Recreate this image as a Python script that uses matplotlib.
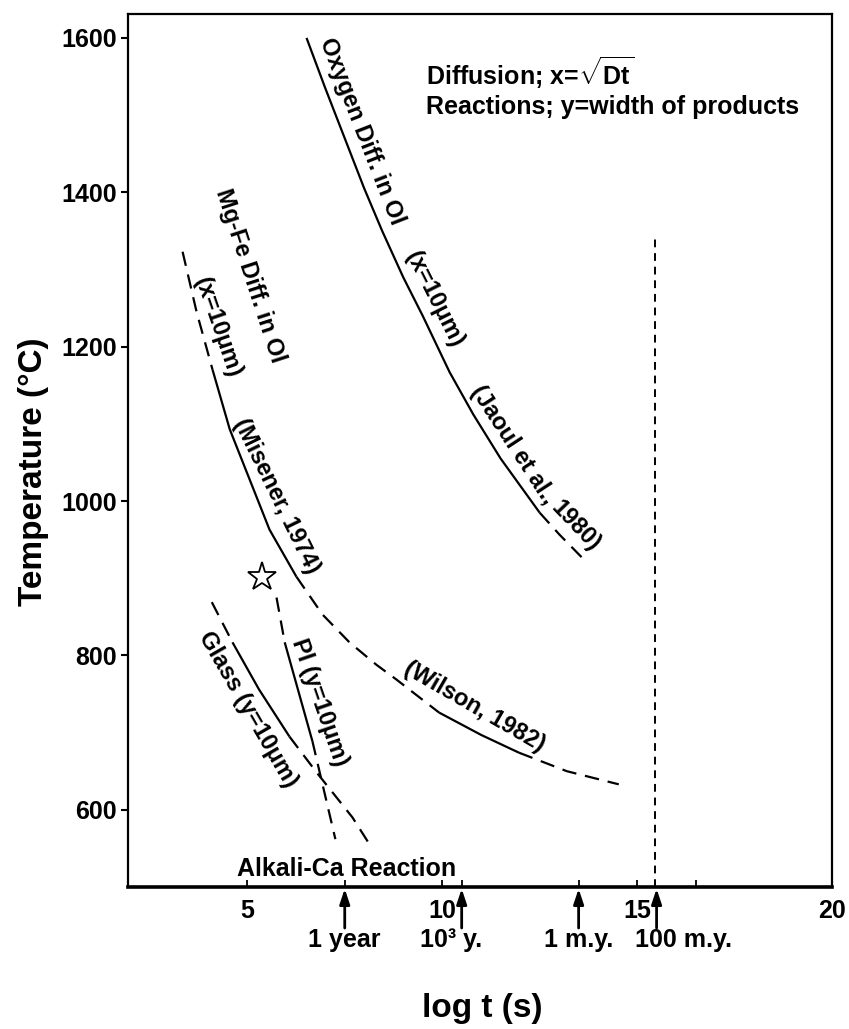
import matplotlib
matplotlib.use('Agg')
import matplotlib.pyplot as plt
import matplotlib.transforms as mtransforms
import numpy as np

plt.rcParams['font.family'] = ['Liberation Sans', 'DejaVu Sans']
plt.rcParams['font.weight'] = 'bold'
plt.rcParams['mathtext.fontset'] = 'custom'
plt.rcParams['mathtext.rm'] = 'Liberation Sans:bold'
plt.rcParams['mathtext.bf'] = 'Liberation Sans:bold'
plt.rcParams['mathtext.it'] = 'Liberation Sans:bold'

# ---------------- data (log t [s], temperature [deg C]) ----------------
# Oxygen diffusion in olivine (Jaoul et al., 1980)
oxy_solid_x = [6.52, 7.0, 7.5, 8.0, 8.46, 9.0, 9.5, 10.19, 10.8, 11.5, 12.5]
oxy_solid_T = [1600, 1535, 1470, 1405, 1350, 1290, 1240, 1167, 1112, 1055, 985]
oxy_dash_x = [12.5, 13.0, 13.64]
oxy_dash_T = [985, 957, 924]

# Mg-Fe diffusion in olivine (Misener 1974 / Wilson 1982)
mg_dash1_x = [3.34, 3.7, 4.11]
mg_dash1_T = [1323, 1245, 1170]
mg_solid1_x = [4.11, 4.55, 5.06, 5.57, 6.26]
mg_solid1_T = [1170, 1093, 1028, 963, 902]
mg_dash2_x = [6.26, 6.93, 7.62, 8.31, 8.82, 9.92]
mg_dash2_T = [902, 853, 817, 788, 769, 726]
mg_solid2_x = [9.92, 11.0, 11.97]
mg_solid2_T = [726, 697, 674]
mg_dash3_x = [11.97, 13.2, 14.53]
mg_dash3_T = [674, 650, 633]

# Plagioclase reaction (y = 10 um)
pl_dash1_x = [5.75, 5.96]
pl_dash1_T = [875, 817]
pl_solid_x = [5.96, 6.67]
pl_solid_T = [817, 689]
pl_dash2_x = [6.67, 7.26]
pl_dash2_T = [689, 562]

# Glass reaction (y = 10 um) / Alkali-Ca reaction
gl_dash1_x = [4.09, 4.62]
gl_dash1_T = [869, 817]
gl_solid_x = [4.62, 5.3, 6.08]
gl_solid_T = [817, 756, 695]
gl_dash2_x = [6.08, 6.77, 7.70, 8.19]
gl_dash2_T = [695, 649, 590, 551]

# 100 m.y. vertical line
vert_x = [15.45, 15.45]
vert_T = [500, 1345]

# star
star_x = [5.37]
star_T = [901]

# axis ticks
xtick_major = [5, 10, 15, 20]
xtick_minor = [7.5, 10.5, 13.5, 16.5]
ytick_vals = [600, 800, 1000, 1200, 1400, 1600]
time_marks = [7.5, 10.5, 13.5, 15.5]
time_labels = ['1 year', '10\u00b3 y.', '1 m.y.', '100 m.y.']
time_label_x = [7.5, 10.23, 13.5, 16.2]

# ---------------- figure ----------------
W, H = 849, 1029
fig = plt.figure(figsize=(W / 100, H / 100), dpi=100)
ax = fig.add_axes([128 / W, 1 - 887 / H, (832 - 128) / W, (887 - 14) / H])
ax.set_xlim(1.94, 20)
ax.set_ylim(500, 1631)

lw = 1.6
dash = (0, (6.5, 4))
kw_s = dict(color='black', lw=lw, solid_capstyle='butt')
kw_d = dict(color='black', lw=lw, linestyle=dash)

ax.plot(oxy_solid_x, oxy_solid_T, **kw_s)
ax.plot(oxy_dash_x, oxy_dash_T, **kw_d)
ax.plot(mg_dash1_x, mg_dash1_T, **kw_d)
ax.plot(mg_solid1_x, mg_solid1_T, **kw_s)
ax.plot(mg_dash2_x, mg_dash2_T, **kw_d)
ax.plot(mg_solid2_x, mg_solid2_T, **kw_s)
ax.plot(mg_dash3_x, mg_dash3_T, **kw_d)
ax.plot(pl_dash1_x, pl_dash1_T, **kw_d)
ax.plot(pl_solid_x, pl_solid_T, **kw_s)
ax.plot(pl_dash2_x, pl_dash2_T, **kw_d)
ax.plot(gl_dash1_x, gl_dash1_T, **kw_d)
ax.plot(gl_solid_x, gl_solid_T, **kw_s)
ax.plot(gl_dash2_x, gl_dash2_T, **kw_d)
ax.plot(vert_x, vert_T, color='black', lw=1.4, linestyle=(0, (4, 3)))
ax.plot(star_x, star_T, marker='*', markersize=21, markerfacecolor='white',
        markeredgecolor='black', markeredgewidth=1.3, linestyle='none')

# ---------------- text annotations ----------------
fs = 17

def lab(x, y, s, rot, size=fs):
    ax.text(x, y, s, rotation=rot, rotation_mode='anchor', ha='center',
            va='center', fontsize=size, fontweight='bold')

oxy_x = np.array(oxy_solid_x + oxy_dash_x[1:])
oxy_T = np.array(oxy_solid_T + oxy_dash_T[1:])

def curve_label(xs, Ts, T_a, s, off_px=18, size=fs):
    """Place text parallel to a curve, offset to its upper-right side."""
    xa = np.interp(T_a, Ts[::-1], xs[::-1])
    x1 = np.interp(T_a + 15, Ts[::-1], xs[::-1])
    x2 = np.interp(T_a - 15, Ts[::-1], xs[::-1])
    p1, p2 = ax.transData.transform([(x1, T_a + 15), (x2, T_a - 15)])
    d = p2 - p1
    d = d / np.hypot(*d)
    rot = np.degrees(np.arctan2(d[1], d[0]))
    nrm = np.array([-d[1], d[0]])
    ax.annotate(s, xy=(xa, T_a), xytext=(nrm[0] * off_px, nrm[1] * off_px),
                textcoords='offset pixels', rotation=rot,
                rotation_mode='anchor', ha='center', va='center',
                fontsize=size, fontweight='bold')

curve_label(oxy_x, oxy_T, 1470, 'Oxygen Diff. in Ol')
curve_label(oxy_x, oxy_T, 1250, '(x=10\u03bcm)')
curve_label(oxy_x, oxy_T, 1060, '(Jaoul et al.,')
curve_label(oxy_x, oxy_T, 952, '1980)')

lab(5.06, 1292, 'Mg-Fe Diff. in Ol', -72)
lab(4.24, 1225, '(x=10\u03bcm)', -71)
lab(5.75, 1007, '(Misener, 1974)', -64)
lab(10.82, 733, '(Wilson, 1982)', -30)
lab(5.01, 730, 'Glass (y=10\u03bcm)', -60)
lab(6.85, 739, 'Pl (y=10\u03bcm)', -71)
ax.text(7.54, 523, 'Alkali-Ca Reaction', ha='center', va='center',
        fontsize=18, fontweight='bold')
ax.text(9.59, 1555, r'Diffusion; x=$\sqrt{\mathrm{Dt}}$', ha='left', va='center',
        fontsize=18, fontweight='bold')
ax.text(9.59, 1510, 'Reactions; y=width of products', ha='left', va='center',
        fontsize=18, fontweight='bold')

# ---------------- axes styling ----------------
for side in ['left', 'top', 'right']:
    ax.spines[side].set_linewidth(1.6)
ax.spines['bottom'].set_linewidth(2.6)

ax.set_yticks(ytick_vals)
ax.set_yticklabels([str(v) for v in ytick_vals])
ax.tick_params(axis='y', direction='out', length=5, width=1.5, pad=3,
               labelsize=18)
ax.set_xticks(xtick_major)
ax.set_xticklabels([str(v) for v in xtick_major])
ax.set_xticks(xtick_minor, minor=True)
ax.tick_params(axis='x', which='both', direction='in', length=5, width=1.3,
               pad=9, labelsize=18)
for t in ax.get_xticklabels() + ax.get_yticklabels():
    t.set_fontweight('bold')

ax.set_ylabel('Temperature (\u00b0C)', fontsize=24, fontweight='bold')
ax.yaxis.set_label_coords(-0.112, 0.476)
ax.set_xlabel('log t (s)', fontsize=24, fontweight='bold')
ax.xaxis.set_label_coords(0.503, -0.121)

# time arrows below the x axis
trans = mtransforms.blended_transform_factory(ax.transData, ax.transAxes)
for xm in time_marks:
    ax.annotate('', xy=(xm, -0.002), xycoords=trans,
                xytext=(xm, -0.047), textcoords=trans,
                arrowprops=dict(arrowstyle='-|>,head_length=0.9,head_width=0.3',
                                lw=2, color='black', shrinkA=0, shrinkB=0),
                annotation_clip=False)
for xl, s in zip(time_label_x, time_labels):
    ax.text(xl, -0.0607, s, transform=trans, ha='center', va='center',
            fontsize=18, fontweight='bold', clip_on=False)

fig.savefig('out.png', dpi=100)
